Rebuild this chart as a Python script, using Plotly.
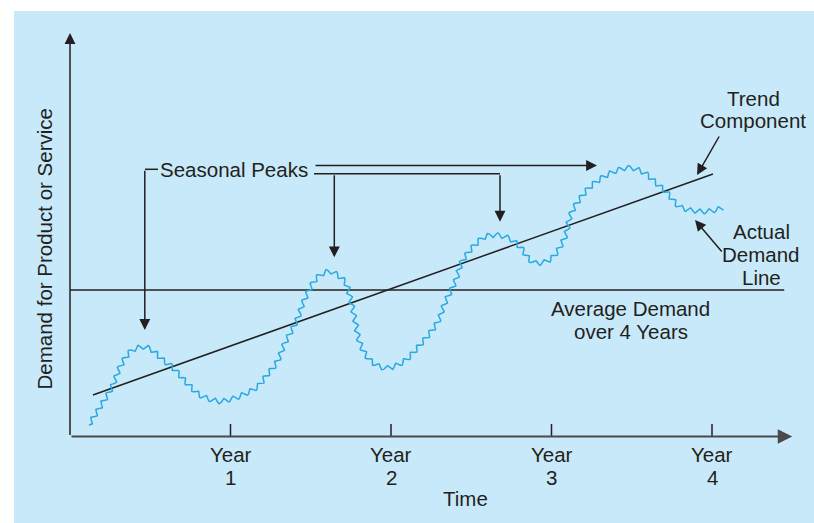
import numpy as np
import plotly.graph_objects as go

# ---------------- data ----------------
YEARS = [1, 2, 3, 4]
YEAR_WORD = "Year"
YEAR_NUMS = ["1", "2", "3", "4"]

# Actual demand: time (years) and demand index (average demand = 100)
DEMAND_T = [0.118, 0.187, 0.262, 0.312, 0.374, 0.449, 0.511, 0.579, 0.642, 0.729,
            0.810, 0.916, 0.978, 1.059, 1.165, 1.227, 1.290, 1.340, 1.414, 1.452,
            1.514, 1.570, 1.632, 1.713, 1.745, 1.776, 1.807, 1.869, 1.963, 2.075,
            2.181, 2.287, 2.336, 2.399, 2.449, 2.555, 2.636, 2.729, 2.804, 2.866,
            2.928, 3.009, 3.084, 3.115, 3.159, 3.240, 3.346, 3.470, 3.570, 3.645,
            3.720, 3.801, 3.907, 3.988, 4.069]
DEMAND_V = [7.9, 20.1, 33.8, 47.4, 57.7, 61.1, 59.0, 52.2, 46.8, 36.5,
            28.3, 24.2, 24.9, 27.6, 33.8, 42.0, 50.9, 63.8, 79.5, 91.1,
            104.8, 110.9, 112.3, 105.5, 95.2, 79.5, 63.8, 52.2, 46.8, 50.9,
            62.5, 77.5, 91.1, 105.5, 120.5, 134.1, 137.5, 135.5, 129.4, 120.5,
            118.4, 122.5, 136.2, 149.8, 159.4, 170.3, 178.5, 183.3, 180.5, 173.7,
            166.2, 156.7, 153.9, 153.9, 156.0]

TREND_T = [0.143, 4.006]
TREND_V = [28.3, 179.2]

AVERAGE_DEMAND = 100
AVERAGE_T = [0.0, 4.45]

AXIS_END_T = 4.50     # end of time axis arrow
AXIS_TOP_V = 275.4    # top of demand axis arrow
TICK_LEN_V = 8.5

# ---------------- layout geometry / style ----------------
W, H = 814, 523
ML, MT, MR, MB = 14, 11, 0, 0
PW, PH = W - ML - MR, H - MT - MB
PAGE_X0, PAGE_Y0 = ML, MT                   # page position of the plot area (body margin removed)
X0_PX, PX_PER_YEAR = 70.0, 160.5            # page x of time 0, px per year
Y0_PX, PX_PER_UNIT = 436.5, 1.465           # page y of demand 0, px per demand unit

XR = [(PAGE_X0 - X0_PX) / PX_PER_YEAR, (PAGE_X0 + PW - X0_PX) / PX_PER_YEAR]
YR = [(Y0_PX - (PAGE_Y0 + PH)) / PX_PER_UNIT, (Y0_PX - PAGE_Y0) / PX_PER_UNIT]

BG = "#c8e9f9"
WAVE = "#2aa9e0"
INK = "#231f20"
FONT = dict(family="Liberation Sans, Arial, Helvetica, sans-serif", size=20.5, color=INK)


def px(x):
    return (x - PAGE_X0) / PW


def py(y):
    return (PAGE_Y0 + PH - y) / PH


def wavy_stroke(t, v, wavelength=9.6, amp=2.3, n=24):
    """Render the read curve as a wavy (rippled) stroke, the line style of the figure."""
    sx = X0_PX + np.asarray(t) * PX_PER_YEAR
    sy = Y0_PX - np.asarray(v) * PX_PER_UNIT
    pts = np.column_stack([sx, sy])
    P = np.vstack([2 * pts[0] - pts[1], pts, 2 * pts[-1] - pts[-2]])
    out = []
    for i in range(1, len(P) - 2):
        p0, p1, p2, p3 = P[i - 1], P[i], P[i + 1], P[i + 2]
        for u in np.linspace(0, 1, n, endpoint=False):
            q = 0.5 * (2 * p1 + (-p0 + p2) * u + (2 * p0 - 5 * p1 + 4 * p2 - p3) * u ** 2
                       + (-p0 + 3 * p1 - 3 * p2 + p3) * u ** 3)
            out.append(q)
    out.append(pts[-1])
    out = np.array(out)
    d = np.diff(out, axis=0)
    s = np.concatenate([[0], np.cumsum(np.hypot(d[:, 0], d[:, 1]))])
    su = np.arange(0, s[-1], 0.4)
    x = np.interp(su, s, out[:, 0])
    y = np.interp(su, s, out[:, 1])
    tx, ty = np.gradient(x), np.gradient(y)
    nrm = np.hypot(tx, ty)
    nx, ny = -ty / nrm, tx / nrm
    off = amp * np.sin(2 * np.pi * su / wavelength)
    x2, y2 = x + off * nx, y + off * ny
    return (x2 - X0_PX) / PX_PER_YEAR, (Y0_PX - y2) / PX_PER_UNIT


wt, wv = wavy_stroke(DEMAND_T, DEMAND_V)

fig = go.Figure()
fig.add_trace(go.Scatter(x=AVERAGE_T, y=[AVERAGE_DEMAND] * 2, mode="lines",
                         line=dict(color=INK, width=1.5), hoverinfo="skip"))
fig.add_trace(go.Scatter(x=TREND_T, y=TREND_V, mode="lines",
                         line=dict(color=INK, width=1.5), hoverinfo="skip"))
fig.add_trace(go.Scatter(x=wt, y=wv, mode="lines",
                         line=dict(color=WAVE, width=1.5), hoverinfo="skip"))

shapes = []
annotations = []

ARW = dict(showarrow=True, arrowhead=2, arrowsize=1.45, arrowwidth=1.5, arrowcolor=INK,
           standoff=0, text="")


def label(x, y, text, **kw):
    annotations.append(dict(x=px(x), y=py(y), xref="paper", yref="paper", text=text,
                            showarrow=False, font=FONT, xanchor="center",
                            yanchor="middle", **kw))


def arrow(hx, hy, tx, ty):
    annotations.append(dict(x=px(hx), y=py(hy), xref="paper", yref="paper",
                            ax=tx - hx, ay=ty - hy, **ARW))


def hline(x0, x1, y):
    shapes.append(dict(type="line", xref="paper", yref="paper", x0=px(x0), x1=px(x1),
                       y0=py(y), y1=py(y), line=dict(color=INK, width=1.5)))


# axes with arrows
annotations.append(dict(x=0, y=AXIS_TOP_V, ax=0, ay=0, xref="x", yref="y",
                        axref="x", ayref="y", **ARW))
annotations.append(dict(x=AXIS_END_T, y=0, ax=0, ay=0, xref="x", yref="y",
                        axref="x", ayref="y", **{**ARW, "arrowcolor": "#4a4a4a", "arrowwidth": 2}))
for yv, num in zip(YEARS, YEAR_NUMS):
    shapes.append(dict(type="line", xref="x", yref="y", x0=yv, x1=yv, y0=0, y1=TICK_LEN_V,
                       line=dict(color=INK, width=1.5)))
    annotations.append(dict(x=yv, y=py(454.7), xref="x", yref="paper", text=YEAR_WORD,
                            showarrow=False, font=FONT, xanchor="center", yanchor="middle"))
    annotations.append(dict(x=yv, y=py(477.7), xref="x", yref="paper", text=num,
                            showarrow=False, font=FONT, xanchor="center", yanchor="middle"))

label(466, 498.4, "Time")
label(43.5, 249, "Demand for Product or Service", textangle=-90)

# Seasonal peaks callout
label(234, 169.4, "Seasonal Peaks")
hline(145, 158, 169.3)
arrow(144.8, 330, 144.8, 169.3)
arrow(597, 165.5, 314, 165.5)
hline(314, 500, 173.7)
arrow(500, 221.7, 500, 173.7)
arrow(334.3, 257.3, 334.3, 173.7)

# Trend component
label(753, 98.4, "Trend")
label(753, 120.7, "Component")
arrow(697, 175, 720, 135)

# Actual demand line
label(761, 231.7, "Actual")
label(761, 254.4, "Demand")
label(761, 277, "Line")
arrow(695, 220, 723, 253)

# Average demand
label(630.5, 308.7, "Average Demand")
label(630.5, 331, "over 4 Years")

fig.update_layout(
    width=W, height=H,
    margin=dict(l=ML, r=MR, t=MT, b=MB, pad=0),
    paper_bgcolor="white", plot_bgcolor=BG,
    showlegend=False,
    xaxis=dict(range=XR, visible=False, fixedrange=True),
    yaxis=dict(range=YR, visible=False, fixedrange=True),
    shapes=shapes, annotations=annotations,
    font=FONT,
)

fig.write_html(
    "out.html",
    config={"displayModeBar": False},
    post_script="document.body.style.margin='0';document.body.style.overflow='hidden';",
)
